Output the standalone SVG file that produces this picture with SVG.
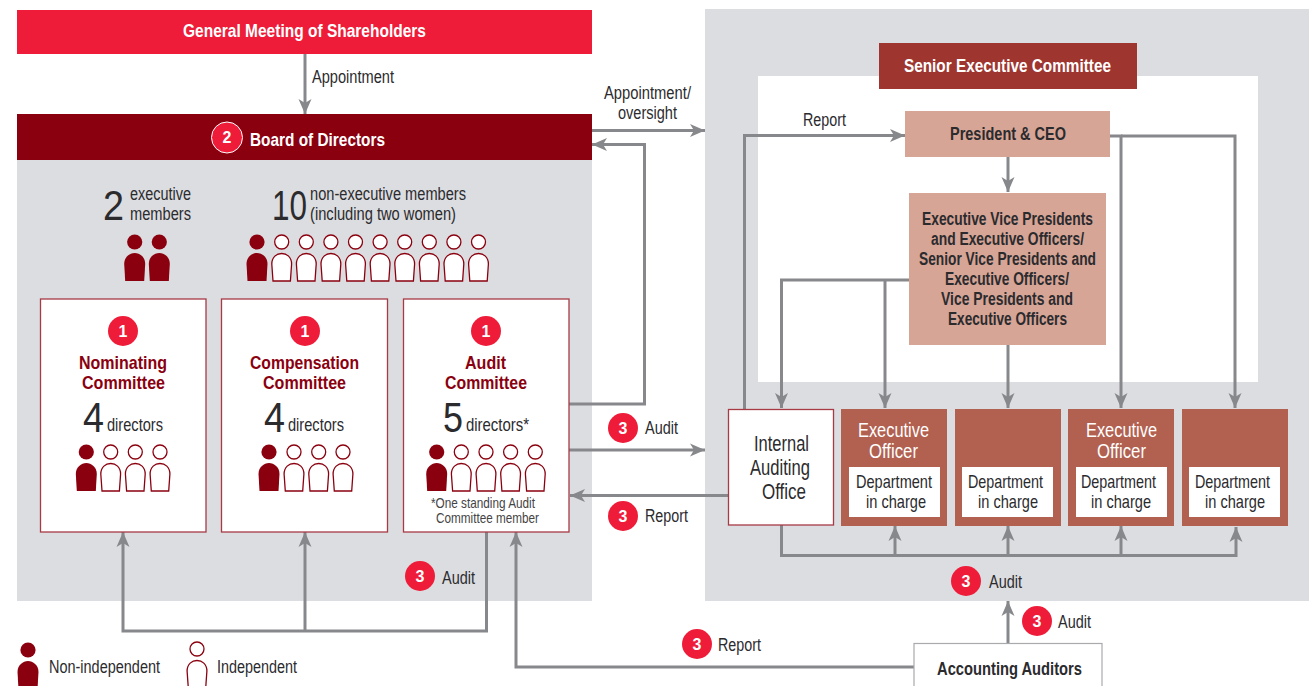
<svg xmlns="http://www.w3.org/2000/svg" width="1309" height="686" viewBox="0 0 1309 686">
<style>
text{font-family:"Liberation Sans Narrow","Liberation Sans",Arial,sans-serif;fill:#2b2b2e}
.w{fill:#fff}.b{font-weight:700}.r{fill:#8b000f;font-weight:700;font-size:19px}
.s14{font-size:15px;fill:#444}.s16{font-size:17.500px}.s17{font-size:18.500px}.s20{font-size:22px}.so{font-size:20px}
.big{font-size:43px;font-family:"Liberation Sans",Arial,sans-serif}
.n{font-family:"Liberation Sans",Arial,sans-serif;font-weight:700;font-size:16px;fill:#fff;text-anchor:middle}
.box{fill:#fff;stroke:#a83a46;stroke-width:1.300}
.off{fill:#b26050}.dept{fill:#fff}.sal{fill:#d7a596}
.c{fill:none;stroke:#87888b;stroke-width:3}
.badge{fill:#ee1c39}
</style>
<defs>
<marker id="a" markerUnits="userSpaceOnUse" markerWidth="16" markerHeight="16" refX="15" refY="8" orient="auto"><path d="M0,1.500 L15,8 L0,14.500 L4,8Z" fill="#87888b"/></marker>
<g id="pf"><circle r="7.600" fill="#8b000f"/><path d="M-9.500,39 L-10.500,22 C-10.500,15 -5,11 0,11 C5,11 10.500,15 10.500,22 L9.500,39Z" fill="#8b000f"/></g>
<g id="po" fill="#fff" stroke="#8b000f" stroke-width="1.300"><circle r="7"/><path d="M-8.700,39 L-9.900,22 C-9.900,15 -5,11.500 0,11.500 C5,11.500 9.900,15 9.900,22 L8.700,39Z"/></g>
</defs>
<rect id="panel-left" x="17" y="160" width="575" height="441" fill="#dcdde0"/>
<rect id="panel-right" x="705" y="9" width="604" height="592" fill="#dcdde0"/>
<rect id="panel-inner" x="758" y="76" width="500" height="306" fill="#fff"/>
<g id="connectors">
<path class="c" marker-end="url(#a)" d="M305,54V114"/>
<path class="c" marker-end="url(#a)" d="M592,130.500H705"/>
<path class="c" marker-end="url(#a)" d="M569,404H644.500V144.500H592"/>
<path class="c" marker-end="url(#a)" d="M744.500,409V135.500H905"/>
<path class="c" marker-end="url(#a)" d="M1008,157V192"/>
<path class="c" marker-end="url(#a)" d="M1110,136H1121V408"/>
<path class="c" marker-end="url(#a)" d="M1121,136H1235V408"/>
<path class="c" marker-end="url(#a)" d="M909,280H781.500V408"/>
<path class="c" marker-end="url(#a)" d="M885,280V408"/>
<path class="c" marker-end="url(#a)" d="M1008,345V408"/>
<path class="c" marker-end="url(#a)" d="M569,450H705"/>
<path class="c" marker-end="url(#a)" d="M728,495.500H570"/>
<path class="c" marker-end="url(#a)" d="M781.500,525V555.500H1236V527"/>
<path class="c" marker-end="url(#a)" d="M895,555.500V526"/>
<path class="c" marker-end="url(#a)" d="M1008,555.500V526"/>
<path class="c" marker-end="url(#a)" d="M1121,555.500V526"/>
<path class="c" marker-end="url(#a)" d="M486.500,532V631H123V532"/>
<path class="c" marker-end="url(#a)" d="M305,631V532"/>
<path class="c" marker-end="url(#a)" d="M914,667H516V532"/>
<path class="c" marker-end="url(#a)" d="M1008,643V601"/>
</g>
<g id="shareholders"><rect x="17" y="10" width="575" height="44" fill="#ee1c39"/><text class="w b s17" x="183" y="37" textLength="243" lengthAdjust="spacingAndGlyphs">General Meeting of Shareholders</text></g>
<g id="board"><rect x="17" y="114" width="575" height="46" fill="#8b000f"/><circle cx="227" cy="137.500" r="15.500" class="badge" stroke="#fff" stroke-width="1"/><text class="n" x="227" y="143">2</text><text class="w b s17" x="250" y="146" textLength="135" lengthAdjust="spacingAndGlyphs">Board of Directors</text></g>
<g id="exec-members">
<text class="big" x="103" y="220" textLength="21" lengthAdjust="spacingAndGlyphs">2</text>
<text class="s16" x="130" y="200" textLength="61" lengthAdjust="spacingAndGlyphs">executive</text>
<text class="s16" x="130" y="220" textLength="61" lengthAdjust="spacingAndGlyphs">members</text>
<use href="#pf" x="134.700" y="242"/><use href="#pf" x="159.300" y="242"/>
</g>
<g id="nonexec-members">
<text class="big" x="272" y="220" textLength="35" lengthAdjust="spacingAndGlyphs">10</text>
<text class="s16" x="310" y="200" textLength="156" lengthAdjust="spacingAndGlyphs">non-executive members</text>
<text class="s16" x="310" y="220" textLength="146" lengthAdjust="spacingAndGlyphs">(including two women)</text>
<use href="#pf" x="257" y="242"/><use href="#po" x="281.700" y="242"/><use href="#po" x="306.300" y="242"/><use href="#po" x="330.900" y="242"/><use href="#po" x="355.500" y="242"/><use href="#po" x="380.100" y="242"/><use href="#po" x="404.700" y="242"/><use href="#po" x="429.300" y="242"/><use href="#po" x="453.900" y="242"/><use href="#po" x="478.500" y="242"/>
</g>
<g id="nominating"><rect class="box" x="40.500" y="299" width="165.500" height="233"/><circle class="badge" cx="123" cy="331" r="15"/><text class="n" x="123" y="336.500">1</text>
<text class="r" x="79" y="369" textLength="88" lengthAdjust="spacingAndGlyphs">Nominating</text><text class="r" x="82" y="389" textLength="83" lengthAdjust="spacingAndGlyphs">Committee</text>
<text class="big" x="83" y="432" textLength="21" lengthAdjust="spacingAndGlyphs">4</text><text class="s17" x="107" y="431" textLength="56" lengthAdjust="spacingAndGlyphs">directors</text>
<use href="#pf" x="86.300" y="452"/><use href="#po" x="110.700" y="452"/><use href="#po" x="135.300" y="452"/><use href="#po" x="160" y="452"/></g>
<g id="compensation"><rect class="box" x="221.500" y="299" width="166" height="233"/><circle class="badge" cx="305" cy="331" r="15"/><text class="n" x="305" y="336.500">1</text>
<text class="r" x="250" y="369" textLength="109" lengthAdjust="spacingAndGlyphs">Compensation</text><text class="r" x="263" y="389" textLength="83" lengthAdjust="spacingAndGlyphs">Committee</text>
<text class="big" x="264" y="432" textLength="21" lengthAdjust="spacingAndGlyphs">4</text><text class="s17" x="288" y="431" textLength="56" lengthAdjust="spacingAndGlyphs">directors</text>
<use href="#pf" x="269" y="452"/><use href="#po" x="294" y="452"/><use href="#po" x="318.700" y="452"/><use href="#po" x="343" y="452"/></g>
<g id="audit-committee"><rect class="box" x="403.500" y="299" width="165.500" height="233"/><circle class="badge" cx="486" cy="331" r="15"/><text class="n" x="486" y="336.500">1</text>
<text class="r" x="465" y="369" textLength="41" lengthAdjust="spacingAndGlyphs">Audit</text><text class="r" x="445" y="389" textLength="82" lengthAdjust="spacingAndGlyphs">Committee</text>
<text class="big" x="443" y="432" textLength="20" lengthAdjust="spacingAndGlyphs">5</text><text class="s17" x="466" y="431" textLength="63" lengthAdjust="spacingAndGlyphs">directors*</text>
<use href="#pf" x="436.700" y="452"/><use href="#po" x="461.300" y="452"/><use href="#po" x="486" y="452"/><use href="#po" x="510.600" y="452"/><use href="#po" x="535.300" y="452"/>
<text class="s14" x="431" y="508" textLength="104" lengthAdjust="spacingAndGlyphs">*One standing Audit</text><text class="s14" x="436" y="523" textLength="103" lengthAdjust="spacingAndGlyphs">Committee member</text></g>
<g id="legend"><use href="#pf" x="28" y="650"/><text class="s16" x="49" y="673" textLength="111" lengthAdjust="spacingAndGlyphs">Non-independent</text><use href="#po" x="197" y="649"/><text class="s16" x="217" y="673" textLength="80" lengthAdjust="spacingAndGlyphs">Independent</text></g>
<g id="labels">
<text class="s16" x="312" y="83" textLength="82" lengthAdjust="spacingAndGlyphs">Appointment</text>
<text class="s16" x="604" y="99" textLength="87" lengthAdjust="spacingAndGlyphs">Appointment/</text>
<text class="s16" x="618" y="119" textLength="59" lengthAdjust="spacingAndGlyphs">oversight</text>
<text class="s16" x="803" y="126" textLength="43" lengthAdjust="spacingAndGlyphs">Report</text>
<circle class="badge" cx="623" cy="428" r="15"/><text class="n" x="623" y="433.500">3</text><text class="s16" x="645" y="434" textLength="33" lengthAdjust="spacingAndGlyphs">Audit</text>
<circle class="badge" cx="623" cy="516" r="15"/><text class="n" x="623" y="521.500">3</text><text class="s16" x="645" y="522" textLength="43" lengthAdjust="spacingAndGlyphs">Report</text>
<circle class="badge" cx="420" cy="576" r="15"/><text class="n" x="420" y="581.500">3</text><text class="s16" x="442" y="584" textLength="33" lengthAdjust="spacingAndGlyphs">Audit</text>
<circle class="badge" cx="966" cy="581" r="15"/><text class="n" x="966" y="586.500">3</text><text class="s16" x="989" y="588" textLength="33" lengthAdjust="spacingAndGlyphs">Audit</text>
<circle class="badge" cx="1037" cy="621" r="15"/><text class="n" x="1037" y="626.500">3</text><text class="s16" x="1058" y="628" textLength="33" lengthAdjust="spacingAndGlyphs">Audit</text>
<circle class="badge" cx="697" cy="644" r="15"/><text class="n" x="697" y="649.500">3</text><text class="s16" x="718" y="651" textLength="43" lengthAdjust="spacingAndGlyphs">Report</text>
</g>
<g id="senior-committee"><rect x="879" y="43" width="258" height="46" fill="#9e352f"/><text class="w b s17" x="904" y="72" textLength="207" lengthAdjust="spacingAndGlyphs">Senior Executive Committee</text></g>
<g id="president"><rect class="sal" x="905" y="111" width="205" height="46"/><text class="b s16" x="950" y="140" textLength="116" lengthAdjust="spacingAndGlyphs">President &amp; CEO</text></g>
<g id="evp"><rect class="sal" x="909" y="193" width="197" height="152"/>
<text class="b s16" x="922" y="225" textLength="171" lengthAdjust="spacingAndGlyphs">Executive Vice Presidents</text>
<text class="b s16" x="931" y="245" textLength="153" lengthAdjust="spacingAndGlyphs">and Executive Officers/</text>
<text class="b s16" x="919" y="265" textLength="177" lengthAdjust="spacingAndGlyphs">Senior Vice Presidents and</text>
<text class="b s16" x="945" y="285" textLength="124" lengthAdjust="spacingAndGlyphs">Executive Officers/</text>
<text class="b s16" x="941" y="305" textLength="132" lengthAdjust="spacingAndGlyphs">Vice Presidents and</text>
<text class="b s16" x="948" y="325" textLength="119" lengthAdjust="spacingAndGlyphs">Executive Officers</text></g>
<g id="internal-auditing"><rect class="box" x="728.500" y="409.500" width="105" height="115.500"/>
<text class="s20" x="754" y="451" textLength="55" lengthAdjust="spacingAndGlyphs">Internal</text><text class="s20" x="750" y="475" textLength="60" lengthAdjust="spacingAndGlyphs">Auditing</text><text class="s20" x="762" y="499" textLength="44" lengthAdjust="spacingAndGlyphs">Office</text></g>
<g id="officer-1"><rect class="off" x="841" y="409" width="106" height="117"/><text class="w so" x="858" y="437" textLength="71" lengthAdjust="spacingAndGlyphs">Executive</text><text class="w so" x="869" y="458" textLength="49" lengthAdjust="spacingAndGlyphs">Officer</text><rect class="dept" x="849" y="467" width="91" height="50"/><text class="s17" x="856" y="488" textLength="76" lengthAdjust="spacingAndGlyphs">Department</text><text class="s17" x="866" y="508" textLength="60" lengthAdjust="spacingAndGlyphs">in charge</text></g>
<g id="officer-2"><rect class="off" x="955" y="409" width="106" height="117"/><rect class="dept" x="962" y="467" width="91" height="50"/><text class="s17" x="968" y="488" textLength="75" lengthAdjust="spacingAndGlyphs">Department</text><text class="s17" x="978" y="508" textLength="60" lengthAdjust="spacingAndGlyphs">in charge</text></g>
<g id="officer-3"><rect class="off" x="1068" y="409" width="106" height="117"/><text class="w so" x="1086" y="437" textLength="71" lengthAdjust="spacingAndGlyphs">Executive</text><text class="w so" x="1097" y="458" textLength="49" lengthAdjust="spacingAndGlyphs">Officer</text><rect class="dept" x="1076" y="467" width="91" height="50"/><text class="s17" x="1081" y="488" textLength="75" lengthAdjust="spacingAndGlyphs">Department</text><text class="s17" x="1091" y="508" textLength="60" lengthAdjust="spacingAndGlyphs">in charge</text></g>
<g id="officer-4"><rect class="off" x="1182" y="409" width="106" height="117"/><rect class="dept" x="1189" y="467" width="91" height="50"/><text class="s17" x="1195" y="488" textLength="75" lengthAdjust="spacingAndGlyphs">Department</text><text class="s17" x="1205" y="508" textLength="60" lengthAdjust="spacingAndGlyphs">in charge</text></g>
<g id="accounting"><rect x="914" y="643.500" width="188" height="50" fill="#fff" stroke="#a9aaad" stroke-width="1.200"/><text class="b s17" x="937" y="675" textLength="145" lengthAdjust="spacingAndGlyphs">Accounting Auditors</text></g>
</svg>
